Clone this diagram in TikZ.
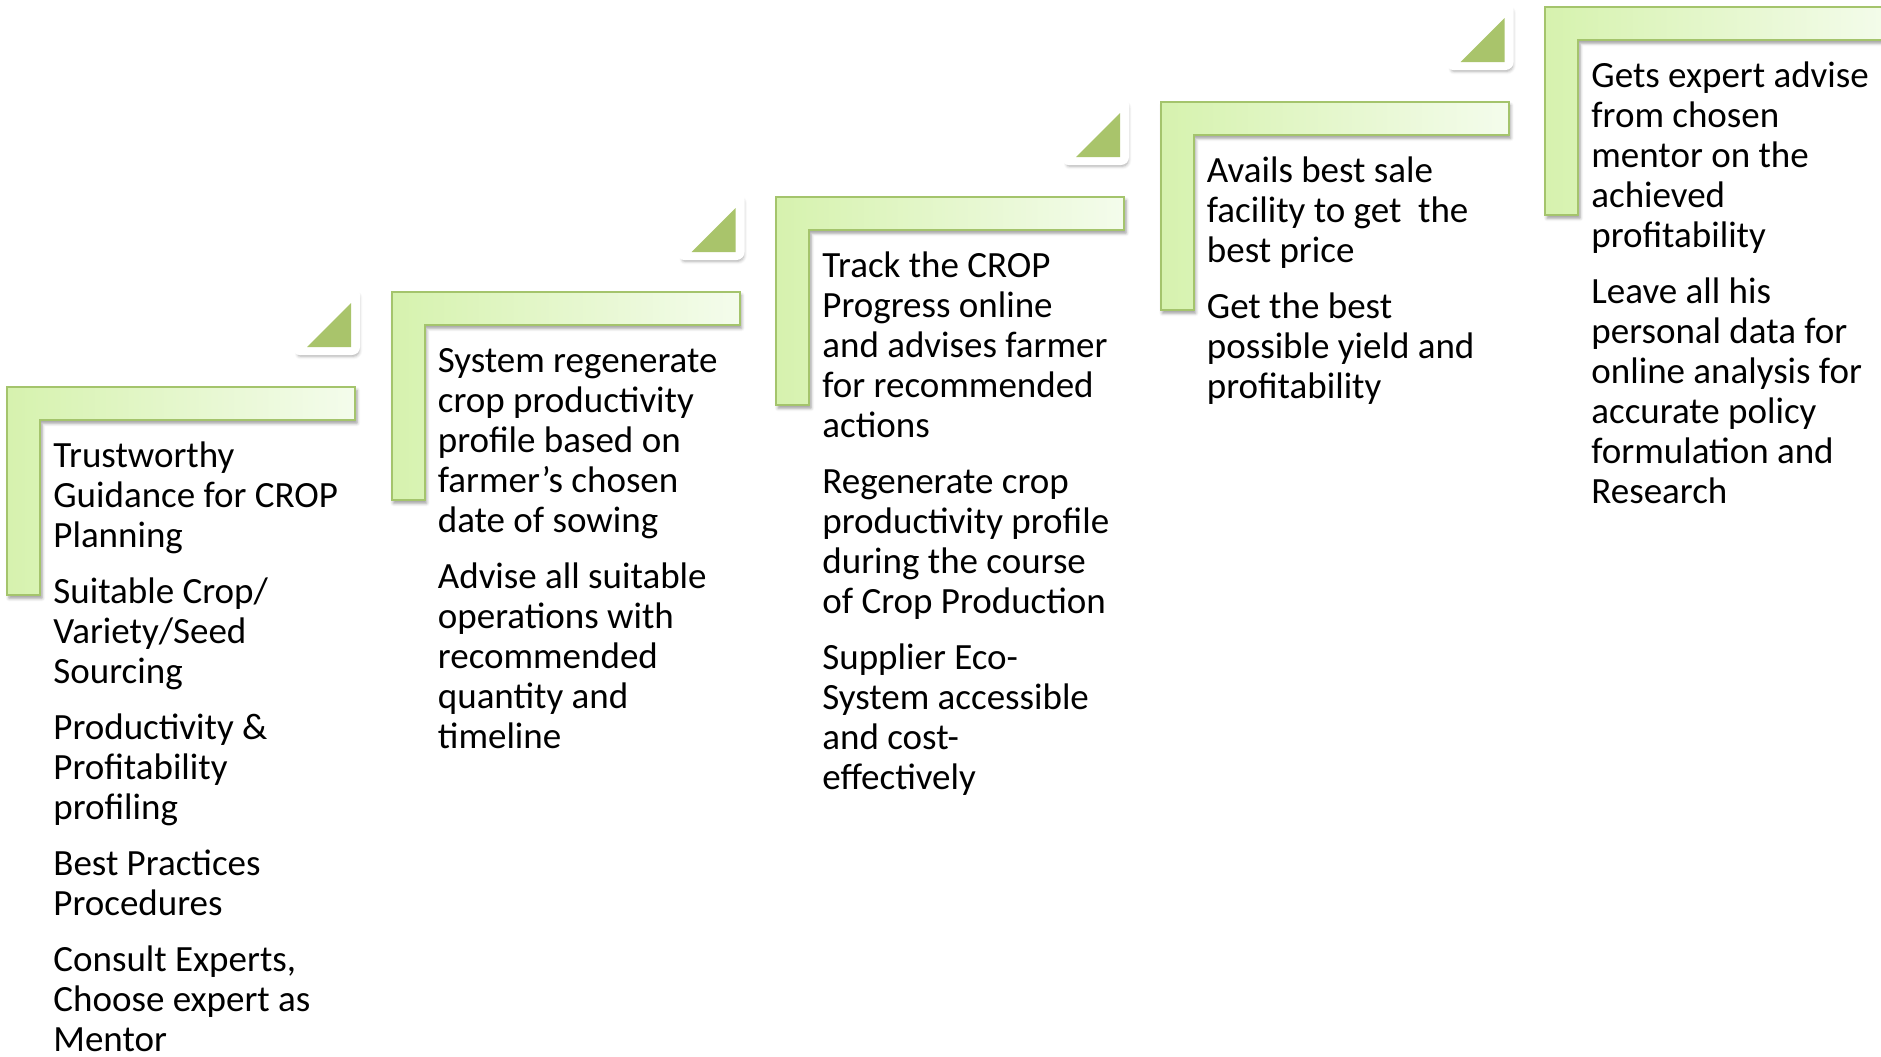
\documentclass[tikz,border=0pt]{standalone}
\usepackage{fontspec}
\setmainfont{Carlito}
\usetikzlibrary{shadows.blur}

\definecolor{barL}{HTML}{D6F2AE}
\definecolor{barR}{HTML}{F4FCEC}
\definecolor{barEdge}{HTML}{A4C46C}
\definecolor{triGreen}{HTML}{A9C46B}

% a block of paragraphs whose reference point is the first baseline
\newcommand\steptext[1]{\vtop{\hsize=220pt\parindent=0pt\parskip=8pt
  \rightskip=0pt plus 1fil\fontsize{18.5}{20}\selectfont #1\par}}

\begin{document}
\begin{tikzpicture}[x=0.5pt,y=-0.5pt]
\tikzset{
  stepbar/.style={left color=barL,right color=barR,draw=barEdge,line width=1pt,
    blur shadow={shadow xshift=1pt,shadow yshift=-1.6pt,shadow blur radius=1.6pt,shadow opacity=40}},
  tripad/.style={fill=white,draw=white,line width=2pt,rounded corners=3pt,
    blur shadow={shadow xshift=0.6pt,shadow yshift=-1.6pt,shadow blur radius=1.6pt,shadow opacity=35}},
  trimark/.style={fill=triGreen,draw=none},
  steptxt/.style={anchor=base west,inner sep=0pt,text=black}
}
\useasboundingbox (0,0) rectangle (1881,1056);
\clip (0,0) rectangle (1881,1056);

% the five rising L-shaped steps
\foreach \i in {0,...,4}{
  \begin{scope}[shift={({\i*384.5},{-\i*95})}]
    \path[stepbar] (7,387) -- (355,387) -- (355,420) -- (40,420) -- (40,595) -- (7,595) -- cycle;
  \end{scope}
}

% the corner markers above the end of each of the first four steps
\foreach \i in {0,...,3}{
  \begin{scope}[shift={({\i*384.5},{-\i*95})}]
    \path[tripad] (294,353) -- (358,353) -- (358,289) -- cycle;
    \path[trimark] (307,347) -- (351,347) -- (351,303) -- cycle;
  \end{scope}
}

\node[steptxt] (t1) at (53,467) {\steptext{%
Trustworthy\\Guidance for CROP\\Planning\par
Suitable Crop/\\Variety/Seed\\Sourcing\par
Productivity \&\\Profitability\\profiling\par
Best Practices\\Procedures\par
Consult Experts,\\Choose expert as\\Mentor}};

\node[steptxt] (t2) at (437.5,372) {\steptext{%
System regenerate\\crop productivity\\profile based on\\farmer’s chosen\\date of sowing\par
Advise all suitable\\operations with\\recommended\\quantity and\\timeline}};

\node[steptxt] (t3) at (822,277) {\steptext{%
Track the CROP\\Progress online\\and advises farmer\\for recommended\\actions\par
Regenerate crop\\productivity profile\\during the course\\of Crop Production\par
Supplier Eco-\\System accessible\\and cost-\\effectively}};

\node[steptxt] (t4) at (1206.5,182) {\steptext{%
Avails best sale\\facility to get\ \ the\\best price\par
Get the best\\possible yield and\\profitability}};

\node[steptxt] (t5) at (1591,87) {\steptext{%
Gets expert advise\\from chosen\\mentor on the\\achieved\\profitability\par
Leave all his\\personal data for\\online analysis for\\accurate policy\\formulation and\\Research}};
\end{tikzpicture}
\end{document}
